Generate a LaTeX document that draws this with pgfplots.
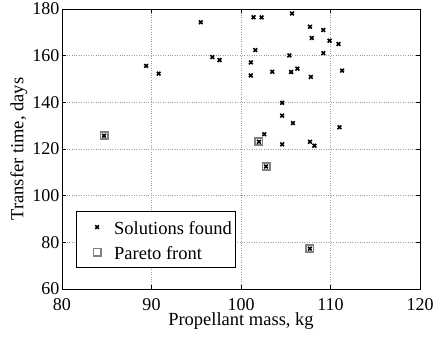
\documentclass[border=0pt]{standalone}
\usepackage{fontspec}
\setmainfont{Liberation Serif}
\usepackage{pgfplots}
\pgfplotsset{compat=1.18}
\begin{document}
\begin{tikzpicture}
\useasboundingbox (-62pt,-48pt) rectangle (373pt,289pt);
\begin{axis}[
  scale only axis,
  width=358pt, height=280pt,
  at={(0,0)}, anchor=south west,
  xmin=80, xmax=120, ymin=60, ymax=180,
  xtick={80,90,...,120}, ytick={60,80,...,180},
  tick align=inside, tick pos=both,
  major tick length=4pt,
  axis line style={line width=0.9pt},
  every tick/.style={black, line width=0.6pt},
  grid=major,
  major grid style={dotted, gray!75, line width=0.6pt},
  /pgf/number format/assume math mode=true,
  tick label style={font=\fontsize{18}{21}\selectfont},
  label style={font=\fontsize{18.5}{22}\selectfont},
  xticklabel style={inner ysep=0pt, yshift=-9.6pt},
  yticklabel style={xshift=1pt},
  xlabel={Propellant mass, kg},
  ylabel={Transfer time, days},
  xlabel style={at={(axis description cs:0.5,-0.1295)}, anchor=base, inner ysep=0pt},
  ylabel style={at={(axis description cs:-0.1081,0.5)}, anchor=base},
  legend style={at={(axis description cs:0.0391,0.075)}, anchor=south west,
    draw=black, line width=0.8pt,
    font=\fontsize{18.5}{22}\selectfont,
    inner xsep=0.7pt, inner ysep=5.5pt, row sep=5pt,
    nodes={inner xsep=3.33pt, inner ysep=2pt, text height=15pt, text depth=1pt}},
  legend cell align=left,
  legend image code/.code={
    \path[draw=none] (0pt,0pt) -- (33.7pt,0pt);
    \draw[#1] plot coordinates {(20pt,0pt)};
  },
]
\addplot[only marks, mark=x, mark size=2.6pt, line width=1.6pt, black] coordinates {
(95.5,174.3) (96.8,159.4) (97.6,158.1) (89.4,155.6) (90.8,152.3)
(101.4,176.5) (102.3,176.4) (105.7,178.1) (107.7,172.4) (109.2,171.0)
(107.9,167.6) (109.9,166.4) (110.9,165.0) (101.6,162.4) (105.4,160.1)
(109.2,161.1) (101.1,157.1) (101.1,151.5) (103.5,153.1) (105.6,153.0)
(106.3,154.4) (107.8,150.9) (111.3,153.6) (104.6,139.8) (104.6,134.3)
(105.8,131.1) (111.0,129.3) (102.6,126.3) (104.6,122.0) (107.7,123.1)
(108.2,121.4) (84.7,125.7) (102.0,123.1) (102.8,112.5) (107.7,77.3)
};
\addlegendentry{Solutions found}
\addplot[only marks, mark=square, mark size=3.6pt, line width=1.8pt, gray] coordinates {
(84.7,125.7) (102.0,123.1) (102.8,112.5) (107.7,77.3)
};
\addlegendentry{Pareto front}
\end{axis}
\end{tikzpicture}
\end{document}
